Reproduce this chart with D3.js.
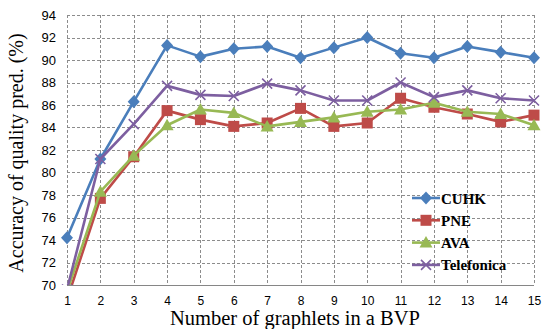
<!DOCTYPE html>
<html>
<head>
<meta charset="utf-8">
<script src="https://cdn.jsdelivr.net/npm/d3@7"></script>
<style>
  html, body { margin: 0; padding: 0; background: #fff; }
  svg { display: block; }
</style>
</head>
<body>
<div id="chart"></div>
<script>
// ─── Data ─────────────────────────────────────────────────────────────────────
const graphlets = [1, 2, 3, 4, 5, 6, 7, 8, 9, 10, 11, 12, 13, 14, 15]
const yTicks = [70, 72, 74, 76, 78, 80, 82, 84, 86, 88, 90, 92, 94]

const cuhk       = [74.2, 81.2, 86.3, 91.3, 90.3, 91.0, 91.2, 90.2, 91.1, 92.0, 90.6, 90.2, 91.2, 90.7, 90.2]
const pne        = [68.7, 77.7, 81.4, 85.5, 84.7, 84.1, 84.4, 85.7, 84.1, 84.4, 86.6, 85.8, 85.2, 84.5, 85.1]
const ava        = [69.4, 78.3, 81.5, 84.2, 85.6, 85.3, 84.1, 84.5, 84.9, 85.4, 85.6, 86.2, 85.4, 85.2, 84.2]
const telefonica = [69.6, 81.2, 84.3, 87.7, 86.9, 86.8, 87.9, 87.3, 86.4, 86.4, 88.0, 86.7, 87.3, 86.6, 86.4]

const series = [
  { name: 'CUHK', values: cuhk, color: '#4a7ebb', marker: 'diamond' },
  { name: 'PNE', values: pne, color: '#be4b48', marker: 'square' },
  { name: 'AVA', values: ava, color: '#98b954', marker: 'triangle' },
  { name: 'Telefonica', values: telefonica, color: '#7d5fa0', marker: 'x' },
]

// ─── Layout ───────────────────────────────────────────────────────────────────
const W = 542, H = 329
const M = { top: 15, right: 8, bottom: 44, left: 67 }
const iw = W - M.left - M.right
const ih = H - M.top - M.bottom

const svg = d3.select('#chart').append('svg')
  .attr('width', W).attr('height', H)

const x = d3.scaleLinear().domain([1, 15]).range([0, iw])
const y = d3.scaleLinear().domain([70, 94]).range([ih, 0])

svg.append('defs').append('clipPath').attr('id', 'plot-clip')
  .append('rect').attr('x', -12).attr('y', -12).attr('width', iw + 24).attr('height', ih + 12)

const g = svg.append('g').attr('transform', `translate(${M.left},${M.top})`)

// ── Grid ──────────────────────────────────────────────────────────────────────
const grid = g.append('g').attr('stroke', '#8c8c8c').attr('stroke-width', 1)
  .attr('stroke-dasharray', '3,2')
grid.selectAll('.gy').data(yTicks.filter(d => d > 70)).join('line')
  .attr('x1', 0).attr('x2', iw)
  .attr('y1', d => Math.round(y(d)) + 0.5).attr('y2', d => Math.round(y(d)) + 0.5)
grid.selectAll('.gx').data(graphlets).join('line')
  .attr('y1', 0).attr('y2', ih)
  .attr('x1', d => Math.round(x(d)) + 0.5).attr('x2', d => Math.round(x(d)) + 0.5)

// bottom axis line
g.append('line')
  .attr('x1', 0).attr('x2', iw)
  .attr('y1', Math.round(ih) + 0.5).attr('y2', Math.round(ih) + 0.5)
  .attr('stroke', '#868686').attr('stroke-width', 1)

// ── Axes labels ───────────────────────────────────────────────────────────────
const yAxis = g.append('g').call(d3.axisLeft(y).tickValues(yTicks).tickSize(0).tickPadding(11))
yAxis.select('.domain').remove()
yAxis.selectAll('text')
  .attr('font-family', 'Liberation Sans, Arial, sans-serif')
  .attr('font-size', 13).attr('fill', '#000')

const xAxis = g.append('g').attr('transform', `translate(0,${ih})`)
  .call(d3.axisBottom(x).tickValues(graphlets).tickFormat(d3.format('d')).tickSize(0).tickPadding(11))
xAxis.select('.domain').remove()
xAxis.selectAll('text')
  .attr('font-family', 'Liberation Sans, Arial, sans-serif')
  .attr('font-size', 12).attr('fill', '#000')

svg.append('text')
  .attr('transform', `translate(23,${M.top + ih / 2 + 3}) rotate(-90)`)
  .attr('text-anchor', 'middle')
  .attr('font-family', 'Liberation Serif, Times New Roman, serif')
  .attr('font-size', 20)
  .text('Accuracy of quality pred.  (%)')

svg.append('text')
  .attr('x', 295).attr('y', 325)
  .attr('text-anchor', 'middle')
  .attr('font-family', 'Liberation Serif, Times New Roman, serif')
  .attr('font-size', 20.5)
  .text('Number of graphlets in a BVP')

// ── Markers ───────────────────────────────────────────────────────────────────
function drawMarker(sel, type, color) {
  if (type === 'diamond') {
    sel.append('path').attr('d', 'M0,-6.5L6,0L0,6.5L-6,0Z').attr('fill', color)
  } else if (type === 'square') {
    sel.append('rect').attr('x', -5.5).attr('y', -5.5).attr('width', 11).attr('height', 11).attr('fill', color)
  } else if (type === 'triangle') {
    sel.append('path').attr('d', 'M0,-6.5L6.5,5L-6.5,5Z').attr('fill', color)
  } else {
    sel.append('path').attr('d', 'M-5,-5L5,5M5,-5L-5,5')
      .attr('stroke', color).attr('stroke-width', 1.6).attr('fill', 'none')
  }
}

// ── Series ────────────────────────────────────────────────────────────────────
const plot = g.append('g').attr('clip-path', 'url(#plot-clip)')
const line = d3.line().x((d, i) => x(graphlets[i])).y(d => y(d))

series.forEach(s => {
  plot.append('path')
    .datum(s.values)
    .attr('d', line)
    .attr('fill', 'none')
    .attr('stroke', s.color)
    .attr('stroke-width', 2.6)
    .attr('stroke-linejoin', 'round')

  plot.selectAll(null).data(s.values).join('g')
    .attr('transform', (d, i) => `translate(${x(graphlets[i])},${y(d)})`)
    .each(function() { drawMarker(d3.select(this), s.marker, s.color) })
})

// ── Legend ────────────────────────────────────────────────────────────────────
const legend = svg.append('g').attr('transform', 'translate(412,198)')
series.forEach((s, i) => {
  const row = legend.append('g').attr('transform', `translate(0,${i * 22.3})`)
  row.append('line').attr('x1', 0).attr('x2', 28).attr('y1', 0).attr('y2', 0)
    .attr('stroke', s.color).attr('stroke-width', 2.6)
  const m = row.append('g').attr('transform', 'translate(14,0)')
  drawMarker(m, s.marker, s.color)
  row.append('text').attr('x', 29).attr('y', 5.5)
    .attr('font-family', 'Liberation Serif, Times New Roman, serif')
    .attr('font-weight', 'bold').attr('font-size', 15)
    .text(s.name)
})
</script>
</body>
</html>
